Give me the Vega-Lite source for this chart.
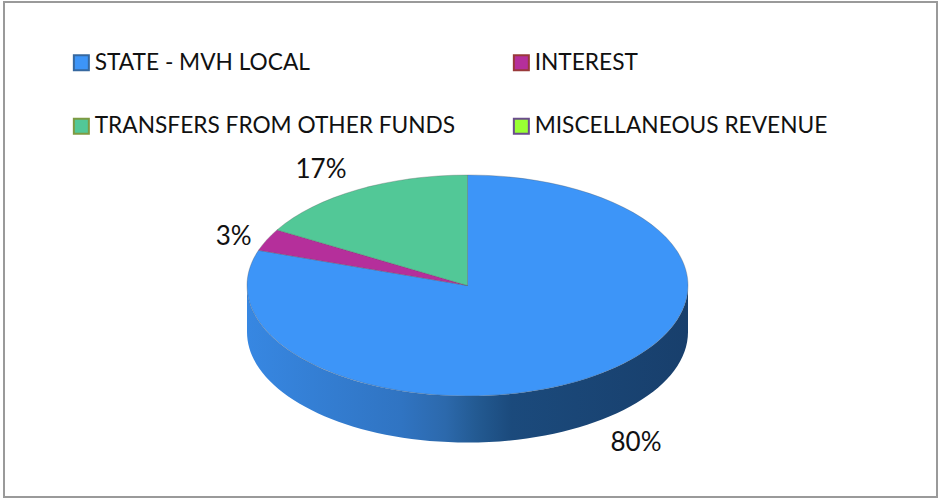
{
  "$schema": "https://vega.github.io/schema/vega-lite/v6.json",
  "width": 933,
  "height": 495,
  "autosize": "none",
  "padding": {"left": 4, "top": 2, "right": 1, "bottom": 1},
  "background": "white",
  "view": {"stroke": "#9a9a9a", "strokeWidth": 2},
  "config": {
    "font": "Lato"
  },
  "data": {"values": [
    {"source": "STATE - MVH LOCAL", "share": 0.80},
    {"source": "INTEREST", "share": 0.03},
    {"source": "TRANSFERS FROM OTHER FUNDS", "share": 0.17},
    {"source": "MISCELLANEOUS REVENUE", "share": 0}
  ]},
  "layer": [
    {
      "transform": [{"filter": "datum.source === 'STATE - MVH LOCAL'"}],
      "mark": {
        "type": "point",
        "filled": true,
        "size": 4,
        "xOffset": -3,
        "yOffset": 36,
        "shape": "M-220.5,0 L-220.5,46.5 A220.5,110.5 0 0 0 220.5,46.5 L220.5,0 A220.5,110.5 0 0 1 -220.5,0 Z",
        "opacity": 1,
        "fill": {
          "gradient": "linear", "x1": 0, "x2": 1, "y1": 0, "y2": 0,
          "stops": [
            {"offset": 0, "color": "#3787E2"},
            {"offset": 0.35, "color": "#3074C2"},
            {"offset": 0.45, "color": "#2C69AC"},
            {"offset": 0.52, "color": "#235A92"},
            {"offset": 0.6, "color": "#1B4A7C"},
            {"offset": 1, "color": "#183F6C"}
          ]
        }
      },
      "encoding": {}
    },
    {
      "transform": [{"filter": "datum.source === 'STATE - MVH LOCAL'"}],
      "mark": {"type": "point", "filled": true, "opacity": 1, "size": 4, "xOffset": -3, "yOffset": 36, "stroke": "#555555", "strokeWidth": 0.5, "strokeOpacity": 0.6, "fill": "#3D95F8",
        "shape": "M0,0 L0,-110.5 A220.5,110.5 0 1 1 -209,-35.2 Z"},
      "encoding": {}
    },
    {
      "transform": [{"filter": "datum.source === 'INTEREST'"}],
      "mark": {"type": "point", "filled": true, "opacity": 1, "size": 4, "xOffset": -3, "yOffset": 36, "stroke": "#555555", "strokeWidth": 0.5, "strokeOpacity": 0.6, "fill": "#B52F9B",
        "shape": "M0,0 L-209,-35.2 A220.5,110.5 0 0 1 -190.5,-55.6 Z"},
      "encoding": {}
    },
    {
      "transform": [{"filter": "datum.source === 'TRANSFERS FROM OTHER FUNDS'"}],
      "mark": {"type": "point", "filled": true, "opacity": 1, "size": 4, "xOffset": -3, "yOffset": 36, "stroke": "#555555", "strokeWidth": 0.5, "strokeOpacity": 0.6, "fill": "#52C897",
        "shape": "M0,0 L-190.5,-55.6 A220.5,110.5 0 0 1 0,-110.5 Z"},
      "encoding": {}
    },
    {
      "mark": {"type": "point", "filled": true, "opacity": 1, "size": 0, "shape": "square"},
      "encoding": {
        "color": {
          "field": "source", "type": "nominal", "title": null,
          "scale": {
            "domain": ["STATE - MVH LOCAL", "TRANSFERS FROM OTHER FUNDS", "INTEREST", "MISCELLANEOUS REVENUE"],
            "range": ["#3D95F8", "#52C897", "#B52F9B", "#99FF33"]
          },
          "legend": {
            "orient": "none", "legendX": 66, "legendY": 49, "columns": 2,
            "symbolType": "square", "symbolSize": 225, "symbolStrokeWidth": 2, "symbolOpacity": 1,
            "labelFont": "Lato", "labelFontSize": 22.7, "labelColor": "#111111", "labelLimit": 500, "labelOffset": 2,
            "rowPadding": 39, "columnPadding": 53, "padding": 0,
            "encode": {"symbols": {"update": {
              "stroke": {"signal": "datum.value === 'INTEREST' ? '#99393A' : datum.value === 'TRANSFERS FROM OTHER FUNDS' ? '#7E9A42' : datum.value === 'MISCELLANEOUS REVENUE' ? '#6B4D8C' : '#36689F'"},
              "strokeOpacity": {"value": 1},
              "strokeWidth": {"value": 2}
            }}}
          }
        }
      }
    },
    {
      "transform": [{"filter": "datum.source === 'TRANSFERS FROM OTHER FUNDS'"}],
      "mark": {"type": "text", "font": "Lato", "fontSize": 26, "color": "#111111", "align": "center", "baseline": "middle", "dx": -149.5, "dy": -79.5},
      "encoding": {"text": {"field": "share", "type": "quantitative", "format": ".0%"}}
    },
    {
      "transform": [{"filter": "datum.source === 'INTEREST'"}],
      "mark": {"type": "text", "font": "Lato", "fontSize": 26, "color": "#111111", "align": "center", "baseline": "middle", "dx": -236.8, "dy": -13},
      "encoding": {"text": {"field": "share", "type": "quantitative", "format": ".0%"}}
    },
    {
      "transform": [{"filter": "datum.source === 'STATE - MVH LOCAL'"}],
      "mark": {"type": "text", "font": "Lato", "fontSize": 26, "color": "#111111", "align": "center", "baseline": "middle", "dx": 165.5, "dy": 193},
      "encoding": {"text": {"field": "share", "type": "quantitative", "format": ".0%"}}
    }
  ]
}
